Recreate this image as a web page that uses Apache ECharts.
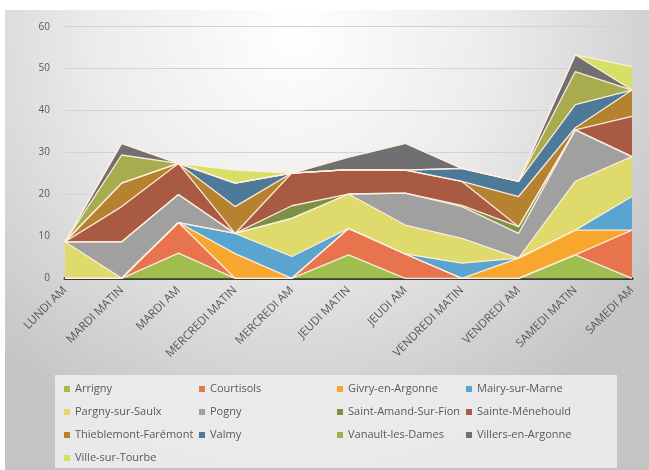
<!DOCTYPE html>
<html>
<head>
<meta charset="utf-8">
<script src="https://cdn.jsdelivr.net/npm/echarts@6/dist/echarts.min.js"></script>
<style>
  html, body { margin: 0; padding: 0; background: #fff; }
  #chart { width: 649px; height: 470px; }
</style>
</head>
<body>
<div id="chart"></div>
<script>
// Time slots of the week (x axis)
const categories = ['LUNDI AM', 'MARDI MATIN', 'MARDI AM', 'MERCREDI MATIN', 'MERCREDI AM',
  'JEUDI MATIN', 'JEUDI AM', 'VENDREDI MATIN', 'VENDREDI AM', 'SAMEDI MATIN', 'SAMEDI AM'];

// One array per commune, stacked in this order from the bottom
const arrigny        = [0, 0, 6.0, 0, 0, 5.6, 0, 0, 0, 5.6, 0];
const courtisols     = [0, 0, 7.3, 0, 0, 6.3, 5.8, 0, 0, 0, 11.5];
const givry          = [0, 0, 0, 5.9, 0, 0, 0, 0, 4.8, 5.9, 0];
const mairy          = [0, 0, 0, 4.8, 5.2, 0, 0, 3.6, 0, 0, 8.0];
const pargny         = [8.7, 0, 0, 0, 9.1, 8.2, 6.9, 5.9, 0, 11.6, 9.5];
const pogny          = [0, 8.7, 6.7, 0, 0, 0, 7.6, 7.6, 5.9, 12.3, 0];
const saintAmand     = [0, 0, 0, 0, 3.0, 0, 0, 0.3, 1.6, 0, 0];
const sainteMene     = [0, 8.4, 7.4, 0, 7.8, 5.8, 5.5, 5.7, 0, 0, 9.6];
const thieblemont    = [0, 5.6, 0, 6.4, 0, 0, 0, 0, 7.2, 0.5, 6.3];
const valmy          = [0, 0, 0, 5.6, 0, 0, 0, 3.1, 3.6, 5.5, 0];
const vanault        = [0, 6.7, 0, 0, 0, 0, 0, 0, 0, 7.9, 0];
const villers        = [0, 2.8, 0, 0, 0, 3.0, 6.4, 0, 0, 4.0, 0];
const villeSurTourbe = [0, 0, 0, 3.1, 0, 0, 0, 0, 0, 0, 5.6];

const yTicks = { min: 0, max: 60, step: 10 };

const seriesDefs = [
  ['Arrigny', arrigny, '#9fbe4f'],
  ['Courtisols', courtisols, '#e8744e'],
  ['Givry-en-Argonne', givry, '#f8a72e'],
  ['Mairy-sur-Marne', mairy, '#5aa5cf'],
  ['Pargny-sur-Saulx', pargny, '#dedb6c'],
  ['Pogny', pogny, '#a0a0a0'],
  ['Saint-Amand-Sur-Fion', saintAmand, '#7c9143'],
  ['Sainte-Ménehould', sainteMene, '#a85a43'],
  ['Thieblemont-Farémont', thieblemont, '#b5832f'],
  ['Valmy', valmy, '#4c7a98'],
  ['Vanault-les-Dames', vanault, '#a9ac4e'],
  ['Villers-en-Argonne', villers, '#707070'],
  ['Ville-sur-Tourbe', villeSurTourbe, '#d6e065']
];

const chart = echarts.init(document.getElementById('chart'), null, { renderer: 'canvas' });

const font = "'Open Sans', 'DejaVu Sans', sans-serif";
const legendColumns = [
  { left: 64,  names: ['Arrigny', 'Pargny-sur-Saulx', 'Thieblemont-Farémont', 'Ville-sur-Tourbe'] },
  { left: 199, names: ['Courtisols', 'Pogny', 'Valmy'] },
  { left: 337, names: ['Givry-en-Argonne', 'Saint-Amand-Sur-Fion', 'Vanault-les-Dames'] },
  { left: 466, names: ['Mairy-sur-Marne', 'Sainte-Ménehould', 'Villers-en-Argonne'] }
];

const option = {
  animation: false,
  backgroundColor: '#ffffff',
  graphic: [
    {
      type: 'rect', z: -10, silent: true,
      shape: { x: 5, y: 10, width: 644, height: 460 },
      style: {
        fill: new echarts.graphic.RadialGradient(0.45, 0.05, 0.95, [
          { offset: 0, color: '#ffffff' },
          { offset: 0.45, color: '#ececec' },
          { offset: 1, color: '#c4c4c4' }
        ])
      }
    },
    {
      type: 'rect', z: -9, silent: true,
      shape: { x: 55, y: 375, width: 562, height: 93 },
      style: { fill: 'rgba(240,240,240,0.85)' }
    }
  ],
  grid: { left: 65, right: 17, top: 26.7, bottom: 191.7, containLabel: false },
  legend: legendColumns.map(col => ({
    orient: 'vertical',
    left: col.left,
    top: 382,
    height: 90,
    padding: 0,
    itemWidth: 6,
    itemHeight: 6,
    itemGap: 9,
    icon: 'rect',
    selectedMode: false,
    data: col.names,
    textStyle: { color: '#595959', fontSize: 11, fontFamily: font, lineHeight: 14 }
  })),
  xAxis: {
    type: 'category',
    boundaryGap: false,
    data: categories,
    axisLine: { show: true, lineStyle: { color: '#3a3a3a', width: 3 } },
    axisTick: { show: false },
    axisLabel: {
      rotate: 45, color: '#595959', fontSize: 11.5, fontFamily: font, margin: 10, interval: 0
    },
    splitLine: { show: false }
  },
  yAxis: {
    type: 'value',
    min: yTicks.min,
    max: yTicks.max,
    interval: yTicks.step,
    axisLine: { show: false },
    axisTick: { show: false },
    axisLabel: { color: '#595959', fontSize: 10, fontFamily: font, margin: 15 },
    splitLine: { lineStyle: { color: '#d2d2d2', width: 1 } }
  },
  series: seriesDefs.map(([name, values, color]) => ({
    name,
    type: 'line',
    stack: 'total',
    data: values,
    symbol: 'none',
    color,
    lineStyle: { color: 'rgba(255,238,222,0.95)', width: 1.3 },
    areaStyle: { color, opacity: 1 }
  }))
};

chart.setOption(option);
</script>
</body>
</html>
